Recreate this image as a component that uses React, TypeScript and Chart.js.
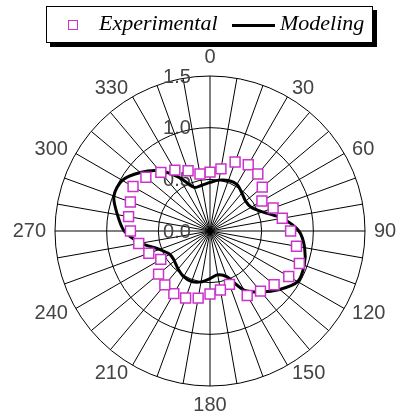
import React, { useEffect, useRef } from "react";
import { Chart, registerables } from "chart.js";

Chart.register(...registerables);

const angleLabels = [
  "0", "10", "20", "30", "40", "50", "60", "70", "80",
  "90", "100", "110", "120", "130", "140", "150", "160", "170",
  "180", "190", "200", "210", "220", "230", "240", "250", "260",
  "270", "280", "290", "300", "310", "320", "330", "340", "350",
];

const experimental = [
  0.57, 0.61, 0.71, 0.74, 0.72, 0.66, 0.58, 0.65, 0.71,
  0.78, 0.85, 0.92, 0.88, 0.81, 0.76, 0.72, 0.55, 0.58,
  0.61, 0.66, 0.69, 0.70, 0.68, 0.65, 0.55, 0.63, 0.70,
  0.77, 0.80, 0.82, 0.86, 0.81, 0.74, 0.68, 0.62, 0.56,
];

const modeling = [
  0.47, 0.50, 0.52, 0.52, 0.48, 0.45, 0.46, 0.54, 0.71,
  0.86, 0.93, 0.97, 0.98, 0.88, 0.77, 0.66, 0.47, 0.43,
  0.46, 0.50, 0.52, 0.51, 0.48, 0.45, 0.45, 0.52, 0.68,
  0.83, 0.91, 0.99, 0.98, 0.88, 0.76, 0.60, 0.45, 0.45,
];

const radialTicks = [0, 0.5, 1.0, 1.5];

const seriesNames = ["Experimental", "Modeling"];

const LABEL_FONT = '20px "Liberation Sans", Arial, sans-serif';
const LABEL_COLOR = "#444";
const MAGENTA = "#cc33cc";

const tickLabelPlugin = {
  id: "tickLabels",
  beforeDatasetsDraw(chart: any) {
    const scale = chart.scales.r;
    const ctx = chart.ctx;
    ctx.save();
    ctx.font = LABEL_FONT;
    ctx.fillStyle = LABEL_COLOR;
    ctx.textAlign = "center";
    ctx.textBaseline = "middle";
    radialTicks.forEach((v) => {
      const d = scale.getDistanceFromCenterForValue(v);
      ctx.fillText(v.toFixed(1), scale.xCenter - 33, scale.yCenter - d + 1);
    });
    ctx.restore();
  },
  afterDraw(chart: any) {
    const scale = chart.scales.r;
    const ctx = chart.ctx;
    ctx.save();
    ctx.font = LABEL_FONT;
    ctx.fillStyle = LABEL_COLOR;
    angleLabels.forEach((lab, i) => {
      const deg = Number(lab);
      if (deg % 30 !== 0) return;
      const p = scale.getPointPosition(i, scale.drawingArea + 9);
      let align: CanvasTextAlign = "center";
      let base: CanvasTextBaseline = "middle";
      if (deg === 0) base = "bottom";
      else if (deg === 180) base = "top";
      else if (deg < 180) align = "left";
      else align = "right";
      ctx.textAlign = align;
      ctx.textBaseline = base;
      ctx.fillText(lab, p.x, p.y);
    });
    ctx.restore();
  },
};

export default function App() {
  const canvasRef = useRef<HTMLCanvasElement | null>(null);

  useEffect(() => {
    if (!canvasRef.current) return;
    const chart = new Chart(canvasRef.current, {
      type: "radar",
      data: {
        labels: angleLabels,
        datasets: [
          {
            label: seriesNames[0],
            data: experimental,
            showLine: false,
            fill: false,
            pointStyle: "rect",
            pointRadius: 7,
            pointHoverRadius: 7,
            pointBorderWidth: 1.5,
            pointBorderColor: MAGENTA,
            pointBackgroundColor: "#ffffff",
            borderColor: MAGENTA,
          },
          {
            label: seriesNames[1],
            data: modeling,
            fill: false,
            borderColor: "#000000",
            borderWidth: 3,
            pointRadius: 0,
            pointHoverRadius: 0,
            tension: 0.3,
          },
        ],
      },
      options: {
        responsive: false,
        animation: false,
        devicePixelRatio: 1,
        layout: { padding: { left: 55, right: 33, top: 76, bottom: 31 } },
        plugins: {
          legend: { display: false },
          tooltip: { enabled: false },
        },
        scales: {
          r: {
            min: 0,
            max: 1.5,
            startAngle: 0,
            ticks: { display: false, stepSize: 0.5 },
            grid: { circular: true, color: "#000", lineWidth: 1 },
            angleLines: { display: true, color: "#000", lineWidth: 1 },
            pointLabels: { display: false },
          },
        },
      },
      plugins: [tickLabelPlugin],
    });
    return () => chart.destroy();
  }, []);

  const serif = '"Liberation Serif", "Times New Roman", serif';

  return (
    <div
      style={{
        position: "fixed",
        left: 0,
        top: 0,
        width: 398,
        height: 417,
        background: "#fff",
        overflow: "hidden",
      }}
    >
      <canvas
        ref={canvasRef}
        width={398}
        height={417}
        style={{ position: "absolute", left: 0, top: 0, width: 398, height: 417 }}
      />
      <div
        style={{
          position: "absolute",
          left: 46,
          top: 6,
          width: 327,
          height: 37,
          boxSizing: "border-box",
          border: "1px solid #000",
          background: "#fff",
          boxShadow: "4px 4px 0 #000",
        }}
      >
        <div
          style={{
            position: "absolute",
            left: 21,
            top: 13,
            width: 10,
            height: 10,
            boxSizing: "border-box",
            border: `1.5px solid ${MAGENTA}`,
          }}
        />
        <span
          style={{
            position: "absolute",
            left: 52,
            top: 4.5,
            font: `italic 22px ${serif}`,
            lineHeight: "22px",
            whiteSpace: "nowrap",
            color: "#000",
          }}
        >
          {seriesNames[0]}
        </span>
        <div
          style={{
            position: "absolute",
            left: 185,
            top: 16.5,
            width: 43,
            height: 3,
            background: "#000",
          }}
        />
        <span
          style={{
            position: "absolute",
            left: 233,
            top: 4.5,
            font: `italic 22px ${serif}`,
            lineHeight: "22px",
            whiteSpace: "nowrap",
            color: "#000",
          }}
        >
          {seriesNames[1]}
        </span>
      </div>
    </div>
  );
}
